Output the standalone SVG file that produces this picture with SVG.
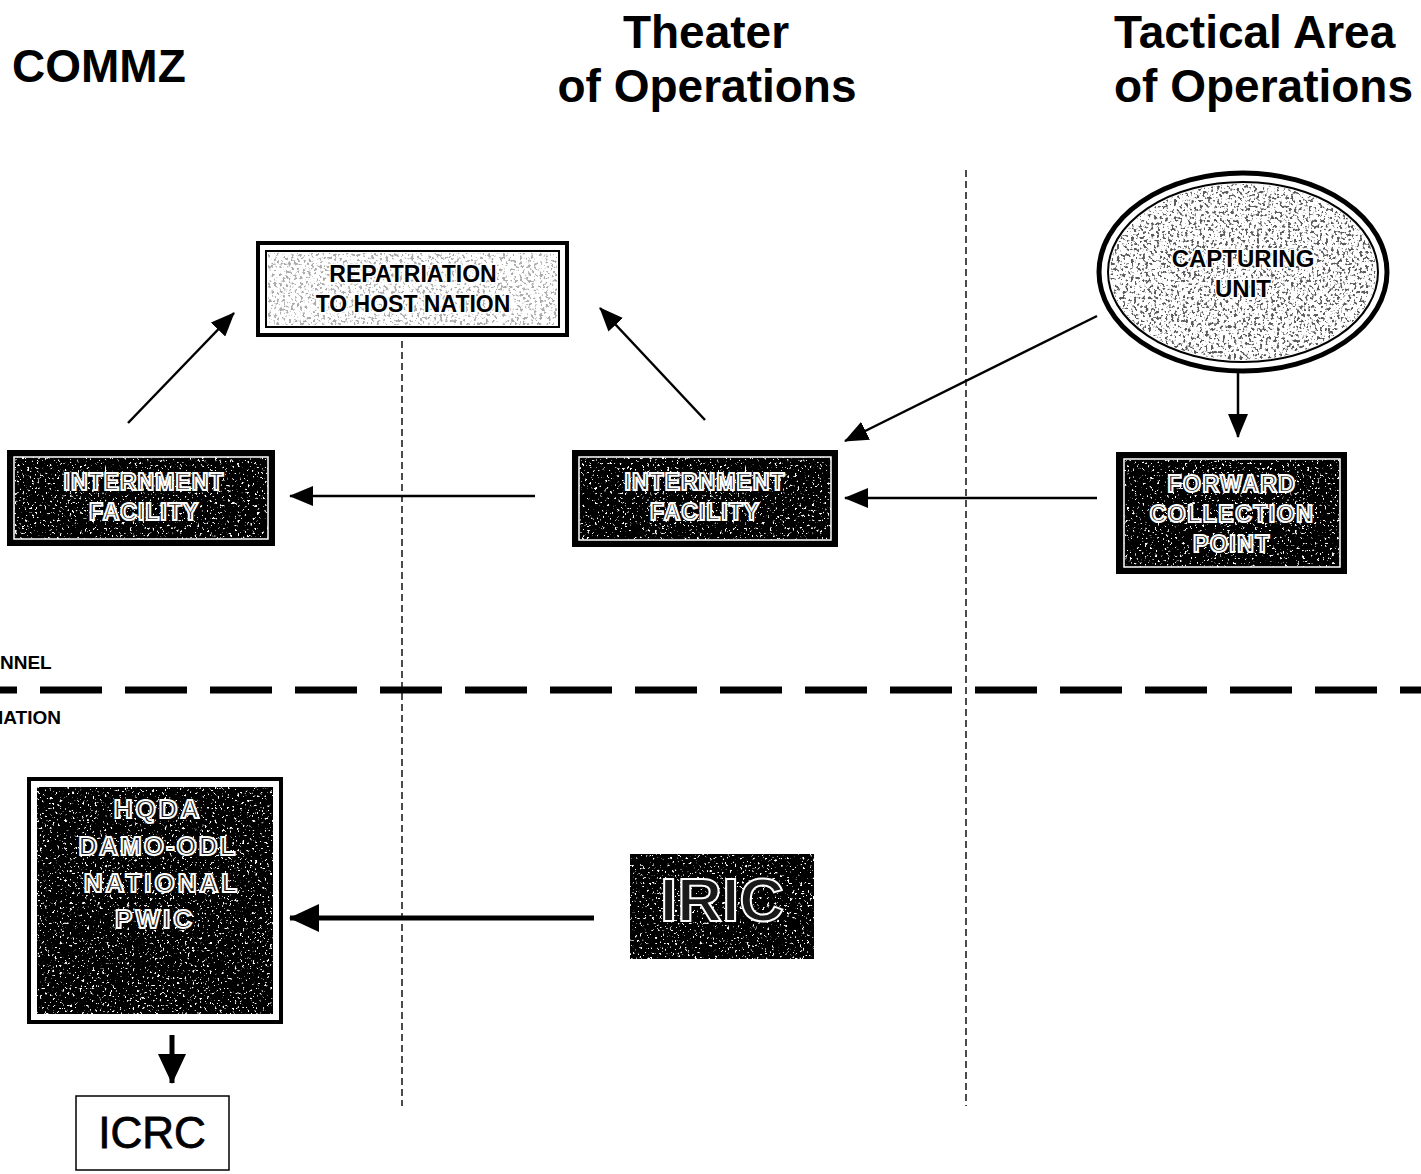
<svg xmlns="http://www.w3.org/2000/svg" width="1421" height="1174" viewBox="0 0 1421 1174">
  <style>
    .title { font-family: "Liberation Sans", Arial, sans-serif; font-weight: bold; font-size: 46px; fill: #000; }
    .side { font-family: "Liberation Sans", Arial, sans-serif; font-weight: bold; font-size: 19px; fill: #000; }
    .inv { font-family: "Liberation Sans", Arial, sans-serif; font-weight: bold; fill: #1a1a1a; stroke: #fff; stroke-width: 2px; text-anchor: middle; }
    .pos { font-family: "Liberation Sans", Arial, sans-serif; font-weight: bold; fill: #000; stroke: #fff; stroke-width: 3px; paint-order: stroke; text-anchor: middle; }
    .dark { fill: #000; }
    .edge { stroke: #000; stroke-width: 2.5; fill: none; }
    .lane { stroke: #000; stroke-width: 1.4; stroke-dasharray: 7 4; fill: none; }
  </style>
  <defs>
    <!-- sparse white speckle over the dark boxes -->
    <filter id="speckWhite" x="0" y="0" width="100%" height="100%">
      <feTurbulence type="fractalNoise" baseFrequency="0.4" numOctaves="2" seed="7" result="n"/>
      <feColorMatrix in="n" type="matrix" values="0 0 0 0 1  0 0 0 0 1  0 0 0 0 1  12 0 0 0 -7.6" result="dots"/>
      <feComposite in="dots" in2="SourceGraphic" operator="in"/>
    </filter>
    <!-- dark speckle over the light shapes -->
    <filter id="speckDark" x="0" y="0" width="100%" height="100%">
      <feTurbulence type="fractalNoise" baseFrequency="0.35" numOctaves="2" seed="3" result="n"/>
      <feColorMatrix in="n" type="matrix" values="0 0 0 0 0.1  0 0 0 0 0.1  0 0 0 0 0.1  9 0 0 0 -4.9" result="dots"/>
      <feComposite in="dots" in2="SourceGraphic" operator="in"/>
    </filter>
    <marker id="head" markerUnits="userSpaceOnUse" markerWidth="24" markerHeight="20" refX="23" refY="10" orient="auto">
      <path d="M0,0 L24,10 L0,20 z" fill="#000"/>
    </marker>
    <marker id="headBig" markerUnits="userSpaceOnUse" markerWidth="30" markerHeight="28" refX="29" refY="14" orient="auto">
      <path d="M0,0 L30,14 L0,28 z" fill="#000"/>
    </marker>
  </defs>

  <rect width="1421" height="1174" fill="#fff"/>

  <!-- column headings -->
  <text class="title" x="12" y="82">COMMZ</text>
  <text class="title" x="706" y="48" text-anchor="middle">Theater</text>
  <text class="title" x="707" y="102" text-anchor="middle">of Operations</text>
  <text class="title" x="1114" y="48">Tactical Area</text>
  <text class="title" x="1114" y="102">of Operations</text>

  <!-- lane separators -->
  <g id="lanes">
    <line class="lane" x1="402" y1="330" x2="402" y2="1106"/>
    <line class="lane" x1="966" y1="170" x2="966" y2="1106"/>
    <line x1="0" y1="690" x2="1421" y2="690" stroke="#000" stroke-width="7" stroke-dasharray="62 23" stroke-dashoffset="45"/>
    <text class="side" x="0" y="669">NNEL</text>
    <text class="side" x="-2" y="724">IATION</text>
  </g>

  <!-- connectors -->
  <g id="connectors">
    <line class="edge" x1="128" y1="423" x2="234" y2="313" marker-end="url(#head)"/>
    <line class="edge" x1="705" y1="420" x2="600" y2="308" marker-end="url(#head)"/>
    <line class="edge" x1="1097" y1="316" x2="845" y2="441" marker-end="url(#head)"/>
    <line class="edge" x1="1238" y1="362" x2="1238" y2="437" marker-end="url(#head)"/>
    <line class="edge" x1="1097" y1="498" x2="845" y2="498" marker-end="url(#head)"/>
    <line class="edge" x1="535" y1="496" x2="290" y2="496" marker-end="url(#head)"/>
    <line x1="594" y1="918" x2="290" y2="918" stroke="#000" stroke-width="5" marker-end="url(#headBig)"/>
    <line x1="172" y1="1035" x2="172" y2="1083" stroke="#000" stroke-width="5" marker-end="url(#headBig)"/>
  </g>

  <!-- Repatriation to host nation -->
  <g id="repatriation">
    <rect x="258" y="243" width="309" height="92" fill="#fff" stroke="#000" stroke-width="4"/>
    <rect x="266" y="251" width="293" height="76" fill="#fff" stroke="#000" stroke-width="2"/>
    <rect x="268" y="253" width="289" height="72" fill="#000" filter="url(#speckDark)" opacity="0.5"/>
    <text class="pos" x="413" y="282" font-size="23">REPATRIATION</text>
    <text class="pos" x="413" y="312" font-size="23">TO HOST NATION</text>
  </g>

  <!-- Capturing unit -->
  <g id="capturing-unit">
    <ellipse cx="1243" cy="272" rx="144" ry="99" fill="#fff" stroke="#000" stroke-width="5"/>
    <ellipse cx="1243" cy="272" rx="135" ry="90" fill="#fff" stroke="#000" stroke-width="2"/>
    <ellipse cx="1243" cy="272" rx="133" ry="88" fill="#000" filter="url(#speckDark)"/>
    <text class="pos" x="1243" y="267" font-size="24">CAPTURING</text>
    <text class="pos" x="1243" y="297" font-size="24">UNIT</text>
  </g>

  <!-- Internment facility (COMMZ) -->
  <g id="internment-commz">
    <rect x="8" y="451" width="266" height="94" class="dark" stroke="#000" stroke-width="2"/>
    <rect x="14" y="457" width="254" height="82" fill="none" stroke="#fff" stroke-width="1.5"/>
    <rect x="14" y="457" width="254" height="82" fill="#000" filter="url(#speckWhite)"/>
    <text class="inv" x="144" y="490" font-size="23" letter-spacing="1">INTERNMENT</text>
    <text class="inv" x="144" y="520" font-size="23" letter-spacing="1">FACILITY</text>
  </g>

  <!-- Internment facility (theater) -->
  <g id="internment-theater">
    <rect x="573" y="451" width="264" height="95" class="dark" stroke="#000" stroke-width="2"/>
    <rect x="579" y="457" width="252" height="83" fill="none" stroke="#fff" stroke-width="1.5"/>
    <rect x="579" y="457" width="252" height="83" fill="#000" filter="url(#speckWhite)"/>
    <text class="inv" x="705" y="490" font-size="23" letter-spacing="1">INTERNMENT</text>
    <text class="inv" x="705" y="520" font-size="23" letter-spacing="1">FACILITY</text>
  </g>

  <!-- Forward collection point -->
  <g id="forward-collection-point">
    <rect x="1117" y="453" width="229" height="120" class="dark" stroke="#000" stroke-width="2"/>
    <rect x="1124" y="459" width="216" height="108" fill="none" stroke="#fff" stroke-width="1.5"/>
    <rect x="1124" y="459" width="216" height="108" fill="#000" filter="url(#speckWhite)"/>
    <text class="inv" x="1232" y="492" font-size="23" letter-spacing="1.5">FORWARD</text>
    <text class="inv" x="1232" y="522" font-size="23" letter-spacing="1.5">COLLECTION</text>
    <text class="inv" x="1232" y="552" font-size="23" letter-spacing="1.5">POINT</text>
  </g>

  <!-- HQDA / DAMO-ODL / National PWIC -->
  <g id="hqda">
    <rect x="29" y="779" width="252" height="243" fill="#fff" stroke="#000" stroke-width="4"/>
    <rect x="37" y="787" width="236" height="227" class="dark"/>
    <rect x="37" y="787" width="236" height="227" fill="#000" filter="url(#speckWhite)"/>
    <text class="inv" x="158" y="818" font-size="26" letter-spacing="3">HQDA</text>
    <text class="inv" x="158" y="855" font-size="26" letter-spacing="2">DAMO-ODL</text>
    <text class="inv" x="162" y="892" font-size="26" letter-spacing="3">NATIONAL</text>
    <text class="inv" x="155" y="928" font-size="26" letter-spacing="3">PWIC</text>
  </g>

  <!-- IRIC -->
  <g id="iric">
    <rect x="630" y="854" width="184" height="105" class="dark"/>
    <rect x="630" y="854" width="184" height="105" fill="#000" filter="url(#speckWhite)"/>
    <text class="inv" x="722" y="921" font-size="62" stroke-width="2.5">IRIC</text>
  </g>

  <!-- ICRC -->
  <g id="icrc">
    <rect x="76" y="1096" width="153" height="74" fill="#fff" stroke="#000" stroke-width="1.5"/>
    <text x="152" y="1148" font-family="Liberation Sans, Arial, sans-serif" font-size="44" text-anchor="middle" fill="#000" stroke="#000" stroke-width="0.8">ICRC</text>
  </g>
</svg>
